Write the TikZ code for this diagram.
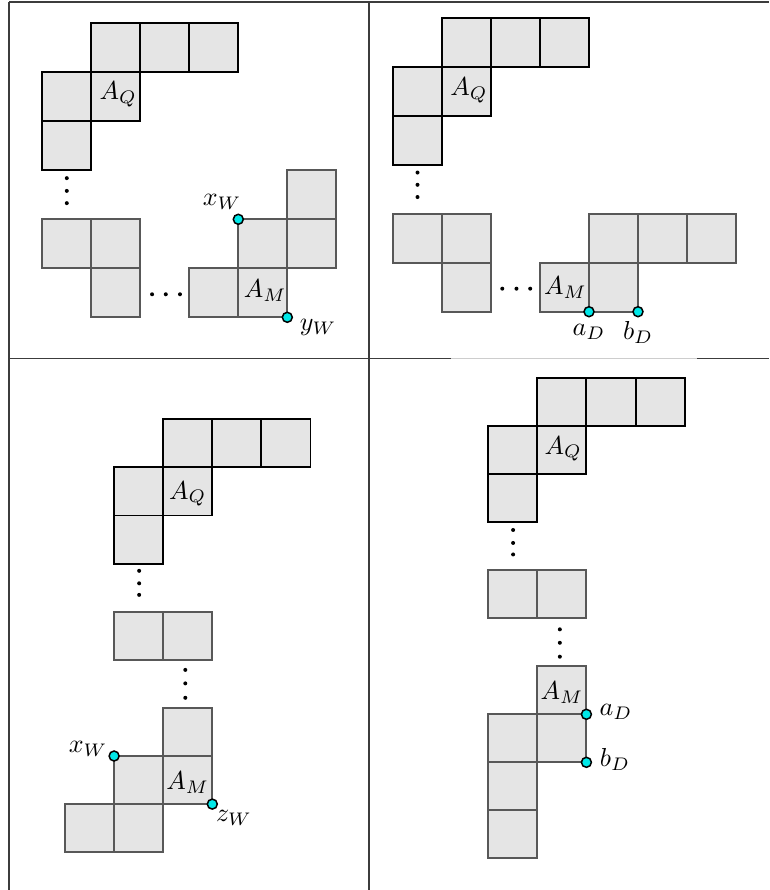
\documentclass[tikz,border=0pt]{standalone}
\definecolor{cellfill}{RGB}{229,229,229}
\definecolor{celledge}{RGB}{88,88,88}
\definecolor{ptfill}{RGB}{0,232,232}
\definecolor{framecol}{RGB}{60,60,60}
\definecolor{framelight}{RGB}{205,205,205}
\begin{document}
\begin{tikzpicture}[x=1pt,y=-1pt,
  bc/.style={fill=cellfill, draw=black, line width=1.9pt},
  gc/.style={fill=cellfill, draw=celledge, line width=1.9pt},
  frameline/.style={draw=framecol, line width=1.1pt},
  framelt/.style={draw=framelight, line width=1.1pt},
  ptc/.style={circle, fill=ptfill, draw=black, line width=1.5pt, minimum size=10pt, inner sep=0pt},
  lbl/.style={scale=2.6, inner sep=0pt},
  dotc/.style={circle, fill=black, minimum size=4pt, inner sep=0pt}]
\useasboundingbox (0,0) rectangle (769,890);
% frame
\coordinate (f1) at (9,2);
\coordinate (f2) at (769,2);
\coordinate (f3) at (9,890);
\coordinate (f4) at (369,2);
\coordinate (f5) at (369,890);
\coordinate (h1) at (9,358.5);
\coordinate (h2) at (451,358.5);
\coordinate (h3) at (697,358.5);
\coordinate (h4) at (769,358.5);
\draw[frameline] (f1) -- (f2);
\draw[frameline] (f1) -- (f3);
\draw[frameline] (f4) -- (f5);
\draw[frameline] (h1) -- (h2);
\draw[framelt] (h2) -- (h3);
\draw[frameline] (h3) -- (h4);

% ---------- Panel 1 ----------
\begin{scope}[shift={(42.3,23.3)},x=49pt,y=-49pt]
  \foreach \i/\j in {1/0,2/0,3/0,0/1,1/1,0/2} \draw[bc] (\i,\j) rectangle ++(1,1);
  \foreach \i/\j in {0/4,1/4,1/5,5/3,4/4,5/4,3/5,4/5} \draw[gc] (\i,\j) rectangle ++(1,1);
  \node[lbl] (aq1) at (1.55,1.45) {$A_Q$};
  \node[lbl] (am1) at (4.55,5.45) {$A_M$};
  \node[dotc] (p1v1) at (0.5,3.16) {};
  \node[dotc] (p1v2) at (0.5,3.42) {};
  \node[dotc] (p1v3) at (0.5,3.67) {};
  \node[dotc] (p1h1) at (2.24,5.53) {};
  \node[dotc] (p1h2) at (2.52,5.53) {};
  \node[dotc] (p1h3) at (2.81,5.53) {};
  \node[ptc] (xw1) at (4,4) {};
  \node[ptc] (yw1) at (5,6) {};
  \node[lbl] (xwl1) at (3.67,3.65) {$x_W$};
  \node[lbl] (ywl1) at (5.63,6.21) {$y_W$};
\end{scope}

% ---------- Panel 2 ----------
\begin{scope}[shift={(393,17.7)},x=49pt,y=-49pt]
  \foreach \i/\j in {1/0,2/0,3/0,0/1,1/1,0/2} \draw[bc] (\i,\j) rectangle ++(1,1);
  \foreach \i/\j in {0/4,1/4,1/5,4/4,5/4,6/4,3/5,4/5} \draw[gc] (\i,\j) rectangle ++(1,1);
  \node[lbl] (aq2) at (1.55,1.48) {$A_Q$};
  \node[lbl] (am2) at (3.52,5.5) {$A_M$};
  \node[dotc] (p2v1) at (0.5,3.16) {};
  \node[dotc] (p2v2) at (0.5,3.41) {};
  \node[dotc] (p2v3) at (0.5,3.66) {};
  \node[dotc] (p2h1) at (2.23,5.53) {};
  \node[dotc] (p2h2) at (2.52,5.53) {};
  \node[dotc] (p2h3) at (2.80,5.53) {};
  \node[ptc] (ad2) at (4,6) {};
  \node[ptc] (bd2) at (5,6) {};
  \node[lbl] (adl2) at (4.0,6.42) {$a_D$};
  \node[lbl] (bdl2) at (5.0,6.42) {$b_D$};
\end{scope}

% ---------- Panel 3 ----------
\begin{scope}[shift={(65,419.3)},x=49.1pt,y=-48.1pt]
  \foreach \i/\j in {2/0,3/0,4/0,1/1,2/1,1/2} \draw[bc] (\i,\j) rectangle ++(1,1);
  \foreach \i/\j in {1/4,2/4,2/6,1/7,2/7,0/8,1/8} \draw[gc] (\i,\j) rectangle ++(1,1);
  \node[lbl] (aq3) at (2.5,1.55) {$A_Q$};
  \node[lbl] (am3) at (2.5,7.55) {$A_M$};
  \node[dotc] (p3a1) at (1.51,3.15) {};
  \node[dotc] (p3a2) at (1.51,3.41) {};
  \node[dotc] (p3a3) at (1.51,3.65) {};
  \node[dotc] (p3b1) at (2.45,5.21) {};
  \node[dotc] (p3b2) at (2.45,5.49) {};
  \node[dotc] (p3b3) at (2.45,5.79) {};
  \node[ptc] (xw3) at (1,7) {};
  \node[ptc] (zw3) at (3,8) {};
  \node[lbl] (xwl3) at (0.47,6.86) {$x_W$};
  \node[lbl] (zwl3) at (3.44,8.28) {$z_W$};
\end{scope}

% ---------- Panel 4 ----------
\begin{scope}[shift={(488,378.3)},x=49.2pt,y=-48pt]
  \foreach \i/\j in {1/0,2/0,3/0,0/1,1/1,0/2} \draw[bc] (\i,\j) rectangle ++(1,1);
  \foreach \i/\j in {0/4,1/4,1/6,0/7,1/7,0/8,0/9} \draw[gc] (\i,\j) rectangle ++(1,1);
  \node[lbl] (aq4) at (1.53,1.47) {$A_Q$};
  \node[lbl] (am4) at (1.5,6.55) {$A_M$};
  \node[dotc] (p4a1) at (0.51,3.16) {};
  \node[dotc] (p4a2) at (0.51,3.43) {};
  \node[dotc] (p4a3) at (0.51,3.67) {};
  \node[dotc] (p4b1) at (1.46,5.23) {};
  \node[dotc] (p4b2) at (1.46,5.51) {};
  \node[dotc] (p4b3) at (1.46,5.80) {};
  \node[ptc] (ad4) at (2,7) {};
  \node[ptc] (bd4) at (2,8) {};
  \node[lbl] (adl4) at (2.6,6.95) {$a_D$};
  \node[lbl] (bdl4) at (2.58,7.95) {$b_D$};
\end{scope}
\end{tikzpicture}
\end{document}
